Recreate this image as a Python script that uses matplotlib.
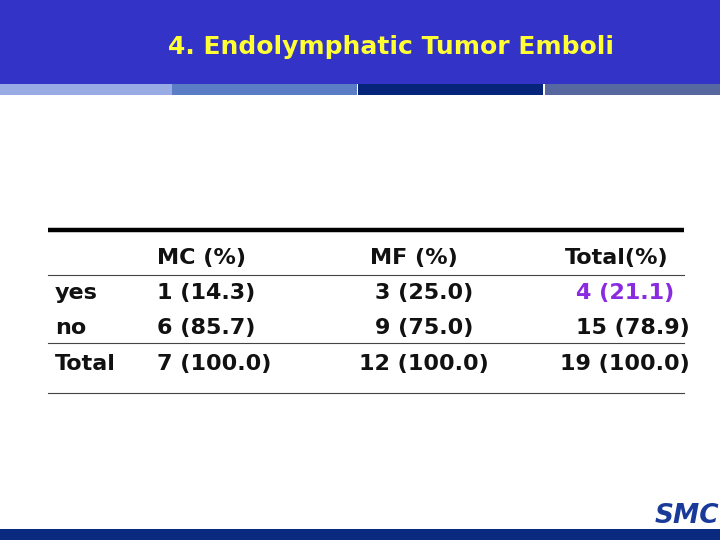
import matplotlib
matplotlib.use("Agg")
import matplotlib.pyplot as plt
from matplotlib.patches import Rectangle

title = "4. Endolymphatic Tumor Emboli"
headers = ["MC (%)", "MF (%)", "Total(%)"]
row_labels = ["yes", "no", "Total"]
mc = ["1 (14.3)", "6 (85.7)", "7 (100.0)"]
mf = ["3 (25.0)", "9 (75.0)", "12 (100.0)"]
tot = ["4 (21.1)", "15 (78.9)", "19 (100.0)"]

fig = plt.figure(figsize=(7.2, 5.4), dpi=100)
ax = fig.add_axes([0, 0, 1, 1])
ax.set_xlim(0, 720); ax.set_ylim(540, 0); ax.axis("off")

# header band
ax.add_patch(Rectangle((0, 0), 720, 84, color="#3333c8", lw=0))
for x0, x1, c in [(0, 172, "#98abe4"), (172, 357, "#5b7dc6"), (357, 358, "#ffffff"),
                  (358, 543, "#05247a"), (543, 545, "#ffffff"), (545, 720, "#56689f")]:
    ax.add_patch(Rectangle((x0, 84), x1 - x0, 11, color=c, lw=0))
ax.text(391, 47, title, color="#ffff33", fontsize=18, fontweight="bold",
        ha="center", va="center")

# bottom band + logo
ax.add_patch(Rectangle((0, 529), 720, 11, color="#0a2a80", lw=0))
ax.text(719, 516, "SMC", color="#1a3a9a", fontsize=19, fontweight="heavy",
        fontstyle="italic", ha="right", va="center")

# table lines
ax.plot([48, 684], [230, 230], color="black", lw=3.2, solid_capstyle="butt")
ax.plot([48, 684], [275, 275], color="#444444", lw=0.8)
ax.plot([48, 684], [343, 343], color="#444444", lw=0.8)
ax.plot([48, 684], [393, 393], color="#444444", lw=0.8)

fs = 16
kw = dict(fontsize=fs, fontweight="bold", va="center", color="#111111")
ys = [293, 328, 364]
ax.text(157, 258, headers[0], ha="left", **kw)
ax.text(414, 258, headers[1], ha="center", **kw)
ax.text(617, 258, headers[2], ha="center", **kw)
for i, y in enumerate(ys):
    ax.text(55, y, row_labels[i], ha="left", **kw)
    ax.text(157, y, mc[i], ha="left", **kw)
    ax.text(424, y, mf[i], ha="center", **kw)
    c = "#8a2be2" if i == 0 else "#111111"
    ax.text(674 if i == 0 else 690, y, tot[i], ha="right", fontsize=fs,
            fontweight="bold", va="center", color=c)

fig.savefig("out.png", dpi=100)
